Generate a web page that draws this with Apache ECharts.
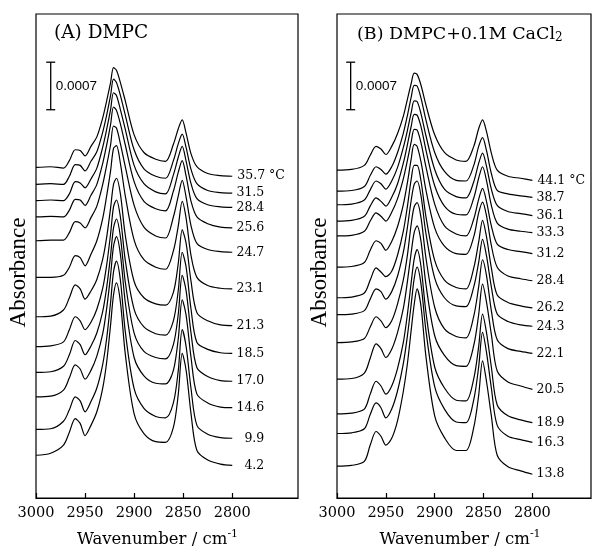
<!DOCTYPE html>
<html>
<head>
<meta charset="utf-8">
<script src="https://cdn.jsdelivr.net/npm/echarts@6/dist/echarts.min.js"></script>
<style>
  html, body { margin: 0; padding: 0; background: #fff; }
  #chart { width: 592px; height: 553px; }
</style>
</head>
<body>
<div id="chart"></div>
<script>
// wavenumbers (cm-1) the spectra were read at
const wavenumbers = [3000, 2985, 2972, 2966, 2960, 2955, 2950, 2944, 2938, 2932, 2928, 2924, 2921, 2918, 2914,
  2909, 2900, 2890, 2878, 2868, 2860, 2855, 2851, 2847, 2842, 2836, 2825, 2812, 2800];
const tickValues = [3000, 2950, 2900, 2850, 2800];

// absorbance in units of 1e-4; each spectrum relative to its value at 3000 cm-1, stacked by an offset
// (A) DMPC
const tempsA = [35.7, 31.5, 28.4, 25.6, 24.7, 23.1, 21.3, 18.5, 17.0, 14.6, 9.9, 4.2];
const offsetsA = [48.7, 46.2, 43.8, 41.4, 37.9, 32.5, 26.7, 22.3, 18.5, 14.9, 10.1, 6.3];
const spectraA = [
  [0, 0.1, -0.1, 1.0, 2.6, 2.5, 1.7, 3.1, 4.5, 7.3, 9.8, 12.5, 14.7, 14.3, 12.5, 9.8, 4.8, 2.2, 1.2, 0.9, 3.4, 5.7, 7.0, 5.0, 2.0, 0.1, -0.9, -1.2, -1.3],
  [0, 0.1, 0, 1.2, 2.9, 2.8, 2.0, 3.4, 4.8, 7.7, 10.2, 13.1, 15.5, 15.0, 13.1, 10.2, 5.1, 2.3, 1.2, 0.9, 3.5, 6.0, 7.4, 5.4, 2.2, 0.1, -0.9, -1.2, -1.3],
  [0, 0.1, 0, 1.0, 2.8, 2.6, 1.9, 3.2, 4.8, 7.9, 10.5, 13.4, 15.9, 15.5, 13.4, 10.5, 5.2, 2.5, 1.3, 1.0, 3.8, 6.4, 8.0, 5.8, 2.5, 0.3, -0.6, -0.9, -1.0],
  [0, 0.1, 0, 1.0, 2.6, 2.5, 1.7, 3.2, 4.8, 7.9, 10.6, 13.6, 16.2, 15.7, 13.7, 10.6, 5.2, 2.3, 1.2, 0.9, 3.8, 6.6, 8.3, 6.0, 2.3, 0, -1.0, -1.5, -1.6],
  [0, 0.1, 0.1, 1.2, 2.8, 2.6, 1.9, 3.4, 5.1, 8.3, 11.1, 14.1, 16.9, 16.6, 14.3, 10.9, 5.2, 2.0, 0.7, 0.4, 3.5, 6.6, 8.9, 6.4, 2.2, -0.4, -1.3, -1.6, -1.7],
  [0, 0, 0.3, 1.5, 3.2, 2.9, 1.7, 3.4, 5.4, 8.7, 12.0, 15.7, 19.0, 19.4, 16.8, 12.0, 5.5, 2.6, 1.5, 1.2, 3.9, 7.6, 11.2, 8.7, 3.2, 0, -1.2, -1.6, -1.7],
  [0, 0.1, 1.0, 2.8, 4.7, 4.1, 2.6, 3.8, 5.5, 8.5, 11.7, 16.0, 19.5, 20.4, 18.1, 12.0, 5.2, 2.8, 1.9, 1.7, 3.6, 7.9, 12.8, 10.8, 5.2, 0.6, -0.6, -1.2, -1.3],
  [0, 0.1, 0.7, 2.5, 4.4, 3.8, 2.5, 3.6, 5.5, 8.6, 12.0, 16.6, 20.6, 21.6, 19.1, 12.7, 5.5, 2.9, 1.9, 1.7, 3.8, 8.3, 13.9, 11.7, 5.5, 0.6, -0.4, -0.9, -1.0],
  [0, 0.1, 0.9, 2.6, 4.7, 4.1, 2.6, 3.9, 5.8, 9.0, 12.5, 17.2, 21.3, 22.6, 20.0, 13.3, 5.8, 3.1, 2.2, 2.0, 4.1, 8.6, 14.3, 12.0, 5.8, 0.7, -0.6, -1.2, -1.3],
  [0, 0.1, 1.0, 2.8, 4.7, 4.1, 2.6, 3.9, 6.0, 9.3, 13.0, 17.9, 22.2, 23.6, 21.0, 13.9, 5.8, 3.1, 2.0, 1.9, 3.9, 8.6, 14.3, 12.0, 5.8, 0.4, -0.9, -1.5, -1.6],
  [0, 0.1, 1.2, 2.9, 4.8, 4.2, 2.6, 4.1, 6.1, 9.6, 13.4, 18.7, 23.2, 24.8, 22.0, 14.4, 6.0, 3.1, 1.9, 1.7, 3.9, 8.7, 14.7, 12.2, 6.0, 0.6, -0.7, -1.2, -1.3],
  [0, 0.3, 1.5, 3.4, 5.4, 4.7, 2.9, 4.4, 6.4, 9.9, 13.7, 19.2, 23.6, 25.4, 22.6, 14.9, 6.1, 3.2, 2.0, 1.9, 4.1, 9.0, 15.0, 12.5, 6.1, 0.7, -0.7, -1.3, -1.5]
];

// (B) DMPC + 0.1 M CaCl2
const tempsB = [44.1, 38.7, 36.1, 33.3, 31.2, 28.4, 26.2, 24.3, 22.1, 20.5, 18.9, 16.3, 13.8];
const offsetsB = [48.3, 45.2, 43.2, 40.8, 38.6, 34.0, 29.5, 27.0, 22.9, 17.5, 12.4, 9.5, 4.7];
const spectraB = [
  [0, 0.1, 0.7, 2.2, 3.5, 3.1, 2.3, 3.5, 5.4, 8.0, 10.4, 12.8, 14.3, 14.1, 12.5, 9.6, 5.2, 2.6, 1.5, 1.3, 3.5, 6.1, 7.4, 5.7, 2.5, 0, -0.9, -1.2, -1.5],
  [0, 0.1, 0.7, 2.3, 3.6, 3.2, 2.5, 3.6, 5.7, 8.6, 11.1, 13.9, 15.6, 15.5, 13.7, 10.5, 5.7, 2.9, 1.6, 1.5, 3.8, 6.6, 7.9, 6.0, 2.6, 0.1, -0.4, -0.7, -0.9],
  [0, 0.1, 0.7, 2.2, 3.5, 3.1, 2.3, 3.5, 5.5, 8.5, 10.9, 13.6, 15.3, 15.2, 13.4, 10.2, 5.2, 2.3, 1.2, 1.0, 3.4, 6.1, 7.6, 5.7, 2.3, -0.1, -1.0, -1.3, -1.6],
  [0, 0.1, 0.7, 2.2, 3.4, 2.9, 2.2, 3.5, 5.5, 8.6, 11.2, 14.0, 15.7, 15.6, 13.9, 10.5, 5.2, 2.2, 1.0, 0.9, 3.4, 6.3, 8.0, 6.0, 2.3, -0.3, -1.2, -1.5, -1.7],
  [0, 0.1, 0.7, 2.2, 3.4, 2.9, 2.2, 3.5, 5.5, 8.5, 11.1, 13.9, 15.7, 15.6, 13.7, 10.2, 4.7, 1.5, 0.3, 0, 2.5, 5.4, 7.0, 5.1, 1.5, -1.2, -2.0, -2.3, -2.6],
  [0, 0.1, 0.7, 2.5, 3.9, 3.5, 2.5, 3.8, 6.0, 9.3, 12.4, 16.0, 18.1, 17.8, 15.5, 11.4, 5.8, 3.1, 2.0, 1.9, 4.5, 8.0, 9.6, 7.6, 3.2, 0, -1.3, -1.7, -2.0],
  [0, 0.1, 0.7, 2.6, 4.4, 3.8, 3.1, 3.9, 6.3, 9.9, 13.4, 17.5, 19.5, 19.5, 17.2, 12.0, 5.5, 2.6, 1.5, 1.3, 4.4, 8.2, 11.4, 9.0, 4.4, 0.4, -0.7, -1.2, -1.5],
  [0, 0.1, 0.6, 2.3, 3.8, 3.4, 2.3, 3.4, 5.7, 9.3, 12.8, 16.9, 19.2, 19.7, 17.5, 12.0, 5.4, 2.5, 1.3, 1.2, 4.1, 7.7, 11.1, 8.7, 4.1, 0.1, -1.0, -1.5, -1.7],
  [0, 0.1, 0.6, 2.3, 3.8, 3.2, 2.2, 3.2, 5.7, 9.3, 12.8, 17.5, 20.0, 20.6, 18.4, 12.5, 5.2, 2.0, 0.9, 0.7, 3.9, 8.2, 12.2, 9.9, 4.7, 0.4, -0.9, -1.3, -1.6],
  [0, 0.1, 0.9, 3.1, 5.2, 4.5, 3.2, 4.4, 6.9, 10.5, 14.3, 18.7, 21.6, 22.6, 20.3, 14.0, 6.4, 3.5, 2.0, 1.9, 5.0, 9.5, 14.0, 11.4, 6.6, 1.2, -0.4, -1.0, -1.5],
  [0, 0.1, 0.7, 2.9, 4.8, 4.1, 2.9, 4.1, 6.7, 10.6, 14.6, 19.4, 22.8, 24.2, 21.7, 15.0, 6.9, 3.8, 2.0, 1.9, 5.2, 9.9, 14.7, 12.0, 6.9, 1.3, -0.3, -0.9, -1.3],
  [0, 0.1, 0.7, 2.8, 4.5, 3.8, 2.3, 3.6, 6.3, 10.4, 14.3, 19.1, 22.8, 24.5, 22.0, 15.2, 6.9, 3.6, 1.7, 1.6, 5.0, 9.8, 14.9, 12.0, 6.7, 1.2, -0.4, -0.9, -1.3],
  [0, 0.1, 0.7, 3.1, 5.1, 4.4, 3.1, 4.1, 6.7, 11.1, 15.0, 20.1, 23.8, 26.1, 23.5, 16.2, 7.4, 4.2, 2.3, 2.3, 5.7, 10.4, 15.5, 12.5, 7.4, 1.6, -0.1, -0.7, -1.2]
];

// scale bar: [wavenumber, absorbance at its lower end], length 0.0007 = 7 units
const scaleBarA = [2985, 57.2];
const scaleBarB = [2986, 57.2];
const scaleBarLength = 7;

const serif = 'DejaVu Serif';

function spectrumSeries(temps, offsets, spectra, idx) {
  return spectra.map((spec, i) => ({
    type: 'line',
    name: String(temps[i]),
    xAxisIndex: idx,
    yAxisIndex: idx,
    data: wavenumbers.map((w, j) => [w, offsets[i] + spec[j]]),
    smooth: 0.3,
    symbol: 'none',
    lineStyle: { color: '#000', width: 1.2 },
    endLabel: {
      show: true,
      formatter: i === 0 ? temps[i].toFixed(1) + ' °C' : temps[i].toFixed(1),
      align: i === 0 ? 'left' : 'right',
      offset: i === 0 ? [10, 0] : [37, 0],
      distance: 5,
      fontFamily: serif,
      fontSize: 12.5,
      color: '#000'
    }
  }));
}

function scaleBarSeries(bar, idx) {
  return {
    type: 'line',
    xAxisIndex: idx,
    yAxisIndex: idx,
    data: [
      { value: [bar[0], bar[1]] },
      {
        value: [bar[0], bar[1] + scaleBarLength / 2],
        symbol: 'circle',
        symbolSize: 0,
        label: {
          show: true, position: 'right', distance: 5, formatter: '0.0007',
          fontFamily: 'Liberation Sans', fontSize: 13.5, color: '#000'
        }
      },
      { value: [bar[0], bar[1] + scaleBarLength] }
    ],
    symbol: 'rect',
    symbolSize: [9, 1.3],
    showAllSymbol: true,
    itemStyle: { color: '#000' },
    lineStyle: { color: '#000', width: 1.3 }
  };
}

function xAxis(idx, min, namePad) {
  return {
    type: 'value',
    gridIndex: idx,
    min: min,
    max: 3000,
    inverse: true,
    axisLine: { lineStyle: { color: '#000', width: 1.2 } },
    axisTick: { inside: true, length: 5, customValues: tickValues, lineStyle: { color: '#000', width: 1.2 } },
    axisLabel: {
      customValues: tickValues, formatter: v => String(v),
      fontFamily: serif, fontSize: 14.5, color: '#000', margin: 8
    },
    splitLine: { show: false },
    name: '{n|Wavenumber / cm}{s|-1}',
    nameLocation: 'middle',
    nameGap: 31,
    nameTextStyle: {
      padding: [0, namePad, 0, 0],
      rich: {
        n: { fontFamily: serif, fontSize: 16.5, color: '#000' },
        s: { fontFamily: serif, fontSize: 11, color: '#000', verticalAlign: 'top', padding: [0, 0, 10, 0] }
      }
    }
  };
}

function yAxis(idx) {
  return {
    type: 'value',
    gridIndex: idx,
    min: 0,
    max: 71.3,
    axisLine: { show: false },
    axisTick: { show: false },
    axisLabel: { show: false },
    splitLine: { show: false },
    name: 'Absorbance',
    nameLocation: 'middle',
    nameGap: 6,
    nameTextStyle: { fontFamily: 'Liberation Serif', fontSize: 23, color: '#000', padding: [0, 33, 0, 0] }
  };
}

const chart = echarts.init(document.getElementById('chart'));
chart.setOption({
  animation: false,
  title: [
    {
      text: '(A) DMPC',
      left: 54, top: 24, padding: 0,
      textStyle: { fontFamily: serif, fontSize: 18.5, fontWeight: 'normal', color: '#000' }
    },
    {
      text: '{a|(B) DMPC+0.1M CaCl}{b|2}',
      left: 357, top: 24, padding: 0,
      textStyle: {
        fontWeight: 'normal',
        rich: {
          a: { fontFamily: serif, fontSize: 17.5, fontWeight: 'normal', color: '#000' },
          b: { fontFamily: serif, fontSize: 12, fontWeight: 'normal', color: '#000', verticalAlign: 'bottom', padding: [8, 0, 0, 0] }
        }
      }
    }
  ],
  grid: [
    { left: 36, top: 14, width: 262, height: 489, show: true, borderColor: '#000', borderWidth: 1.2 },
    { left: 337, top: 14, width: 254, height: 489, show: true, borderColor: '#000', borderWidth: 1.2 }
  ],
  xAxis: [xAxis(0, 2733, 19), xAxis(1, 2740, 8)],
  yAxis: [yAxis(0), yAxis(1)],
  series: [
    ...spectrumSeries(tempsA, offsetsA, spectraA, 0),
    ...spectrumSeries(tempsB, offsetsB, spectraB, 1),
    scaleBarSeries(scaleBarA, 0),
    scaleBarSeries(scaleBarB, 1)
  ]
});
</script>
</body>
</html>
